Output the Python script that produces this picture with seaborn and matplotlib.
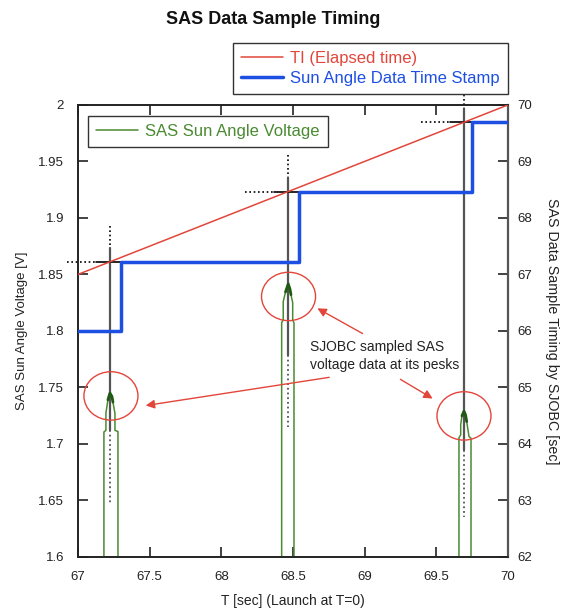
import numpy as np
import pandas as pd
import seaborn as sns
import matplotlib
matplotlib.use("Agg")
import matplotlib.pyplot as plt
from matplotlib.lines import Line2D
from matplotlib.patches import Ellipse
from matplotlib.ticker import FuncFormatter

# --- data ---
x_ticks = [67, 67.5, 68, 68.5, 69, 69.5, 70]
volt_ticks = [1.6, 1.65, 1.7, 1.75, 1.8, 1.85, 1.9, 1.95, 2.0]
time_ticks = [62, 63, 64, 65, 66, 67, 68, 69, 70]

# TI (elapsed time) line, right axis
ti_t = [67.0, 70.0]
ti_v = [67.0, 70.0]

# sun angle data time stamp (step), right axis
stamp_t = [67.0, 67.30, 68.54, 69.75, 70.0]
stamp_v = [66.0, 67.223, 68.467, 69.693, 69.693]

# sample instants of SJOBC
sample_t = [67.223, 68.467, 69.693]
solid_bottom = [1.712, 1.779, 1.695]
dotted_bottom = [1.648, 1.715, 1.635]

# SAS sun angle voltage pulses
pulse1_t = [67.181, 67.181, 67.195, 67.195, 67.209, 67.223, 67.237, 67.244, 67.258, 67.258, 67.279, 67.279]
pulse1_v = [1.55, 1.7106, 1.712, 1.7274, 1.739, 1.745, 1.742, 1.737, 1.727, 1.712, 1.711, 1.55]
pulse2_t = [68.421, 68.421, 68.432, 68.432, 68.448, 68.467, 68.479, 68.486, 68.498, 68.498, 68.507, 68.507]
pulse2_v = [1.55, 1.8073, 1.8097, 1.826, 1.8345, 1.8416, 1.837, 1.832, 1.825, 1.8097, 1.807, 1.55]
pulse3_t = [69.658, 69.658, 69.670, 69.670, 69.679, 69.693, 69.704, 69.712, 69.728, 69.742, 69.742]
pulse3_v = [1.55, 1.7055, 1.708, 1.717, 1.7248, 1.729, 1.7257, 1.7197, 1.7065, 1.705, 1.55]
pulses = [(pulse1_t, pulse1_v), (pulse2_t, pulse2_v), (pulse3_t, pulse3_v)]

# annotation marks (circles around peaks, arrows from the note)
circle_t = [67.230, 68.469, 69.693]
circle_v = [1.7425, 1.8305, 1.7248]
arrow_from = [(68.772, 1.7593), (69.002, 1.7965), (69.233, 1.7584)]
arrow_to = [(67.4535, 1.7336), (68.6535, 1.8212), (69.491, 1.7389)]
note_text = "SJOBC sampled SAS\nvoltage data at its pesks"

RED = "#e2463b"
BLUE = "#1d4fe3"
GREEN = "#4a8a32"
DKGREEN = "#1f5a12"


def volt_of(t):
    # right axis (62..70 s) maps onto left axis (1.6..2.0 V)
    return 1.6 + (t - 62.0) * 0.05


sns.set_style("ticks")
plt.rcParams["font.family"] = ["Liberation Sans", "DejaVu Sans"]

fig = plt.figure(figsize=(5.61, 6.10), dpi=100)
ax = fig.add_axes([0.139, 0.087, 0.7665, 0.741])
ax2 = ax.twinx()

# green voltage pulses
for t, v in pulses:
    df = pd.DataFrame({"t": t, "v": v})
    sns.lineplot(data=df, x="t", y="v", sort=False, estimator=None, color=GREEN,
                 lw=1.1, ax=ax, zorder=4)
    top = df[df.v > df.v.max() - 0.012]
    sns.lineplot(data=top, x="t", y="v", sort=False, estimator=None, color=DKGREEN,
                 lw=2.0, ax=ax, zorder=5)

# crosshairs at sampling instants
for t, jump, sb, db in zip(sample_t, stamp_t[1:4], solid_bottom, dotted_bottom):
    vi = volt_of(t)
    ax.plot([t, t], [vi + 0.032, vi + 0.012], color="k", lw=1.2, ls=(0, (1, 1.6)),
            clip_on=False, zorder=3)
    ax.plot([t, t], [vi + 0.012, sb], color="#555555", lw=1.6, zorder=3)
    ax.plot([t, t], [sb, db], color="#555555", lw=1.3, ls=(0, (1, 1.6)), zorder=3)
    ax.plot([t - 0.3, t - 0.1], [vi, vi], color="k", lw=1.2, ls=(0, (1, 1.6)),
            clip_on=False, zorder=3)
    ax.plot([t - 0.1, jump], [vi, vi], color="k", lw=1.2, zorder=3)

# circles and arrows
for ct, cv in zip(circle_t, circle_v):
    ax.add_patch(Ellipse((ct, cv), 0.377, 0.0428, fill=False, ec=RED, lw=1.0, zorder=6))
for (x0, y0), (x1, y1) in zip(arrow_from, arrow_to):
    ax.annotate("", xy=(x1, y1), xytext=(x0, y0),
                arrowprops=dict(arrowstyle="-|>", color=RED, lw=1.0, mutation_scale=13),
                zorder=6)
ax.text(68.619, 1.7779, note_text, fontsize=10, color="#222222", ha="left", va="center",
        linespacing=1.35, zorder=7)

# right-axis series
sns.lineplot(x=ti_t, y=ti_v, color=RED, lw=1.1, ax=ax2, zorder=4)
ax2.step(stamp_t, stamp_v, where="post", color=BLUE, lw=2.5, zorder=3)

ax.set_xlim(67, 70)
ax.set_ylim(1.6, 2.0)
ax2.set_ylim(62, 70)
ax.set_xticks(x_ticks)
ax.set_yticks(volt_ticks)
ax2.set_yticks(time_ticks)
fmt = FuncFormatter(lambda val, pos: "%g" % round(val, 3))
ax.xaxis.set_major_formatter(fmt)
ax.yaxis.set_major_formatter(fmt)
ax2.yaxis.set_major_formatter(fmt)

ax.tick_params(axis="both", direction="in", length=7, width=1.2, labelsize=9.5,
               colors="#222222", top=True, right=False, pad=10)
ax2.tick_params(axis="y", direction="in", length=7, width=1.2, labelsize=9.5,
                colors="#222222", pad=7)
for a in (ax, ax2):
    for s in a.spines.values():
        s.set_color("#222222")
        s.set_linewidth(1.2)
        s.set_visible(True)
ax2.spines["right"].set_color("#555555")
ax2.spines["right"].set_linewidth(1.6)

ax.set_xlabel("T [sec] (Launch at T=0)", fontsize=10, color="#222222", labelpad=8)
ax.set_ylabel("SAS Sun Angle Voltage [V]", fontsize=9.5, color="#222222", labelpad=7)
ax2.set_ylabel("SAS Data Sample Timing by SJOBC [sec]", fontsize=10.3, color="#222222",
               rotation=270, labelpad=19)
ax.grid(False)
ax2.grid(False)

fig.text(0.487, 0.968, "SAS Data Sample Timing", fontsize=13, fontweight="bold",
         ha="center", va="center", color="#111111")

# legends
leg_kw = dict(fontsize=12, frameon=True, fancybox=False, handlelength=2.5,
              handletextpad=0.45, borderpad=0.5, labelspacing=0.28)
h_top = [Line2D([], [], color=RED, lw=1.1), Line2D([], [], color=BLUE, lw=2.5)]
leg1 = ax2.legend(h_top, ["TI (Elapsed time)", "Sun Angle Data Time Stamp"],
                  loc="lower right", bbox_to_anchor=(1.0, 1.024), borderaxespad=0,
                  labelcolor=[RED, BLUE], **leg_kw)
leg1.get_frame().set_edgecolor("#333333")
leg1.get_frame().set_linewidth(1.0)
leg1.get_frame().set_alpha(1)
ax2.add_artist(leg1)
h_green = [Line2D([], [], color=GREEN, lw=1.1)]
leg2 = ax2.legend(h_green, ["SAS Sun Angle Voltage"], loc="upper left",
                  bbox_to_anchor=(0.023, 0.976), borderaxespad=0,
                  labelcolor=[GREEN], **leg_kw)
leg2.get_frame().set_edgecolor("#333333")
leg2.get_frame().set_linewidth(1.0)
leg2.get_frame().set_alpha(1)

fig.savefig("out.png", dpi=100)
